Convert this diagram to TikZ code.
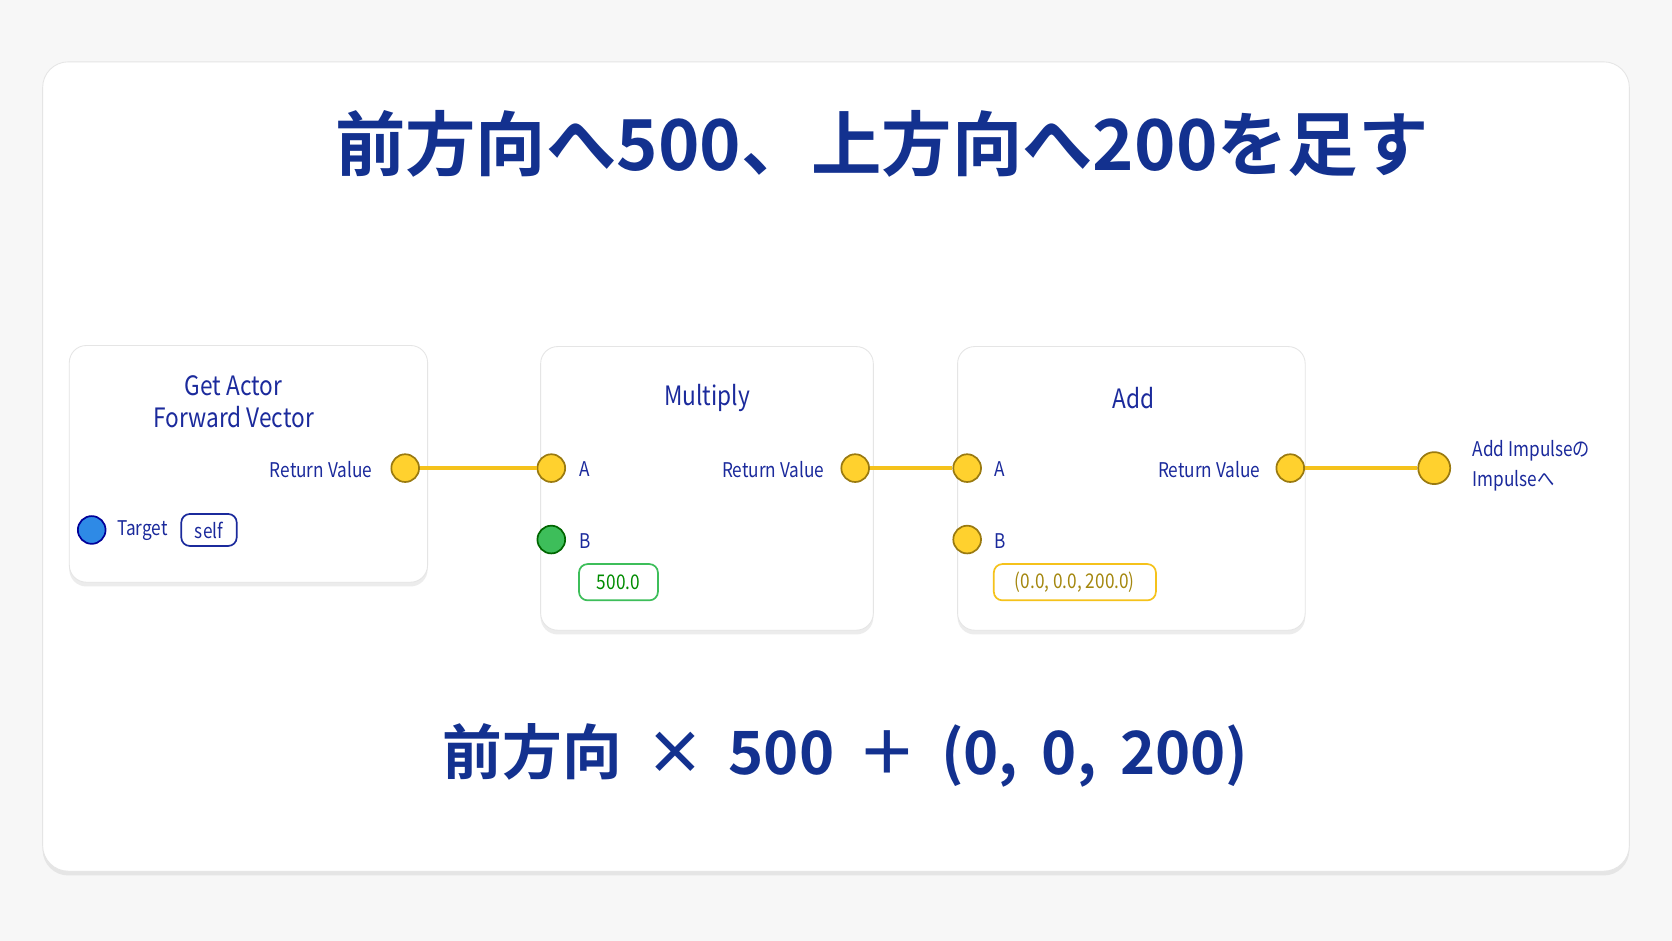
\documentclass[tikz,border=0pt]{standalone}
\usepackage{fontspec}
\setmainfont{Noto Sans CJK JP}
\newfontfamily\cjkb{Noto Sans CJK JP Bold}
\newfontfamily\cond[FakeStretch=0.85]{Noto Sans CJK JP}
\usetikzlibrary{shadows}
\definecolor{ttl}{HTML}{13318F}
\definecolor{lbl}{HTML}{1B2A9C}
\definecolor{pin}{HTML}{FFD12E}
\definecolor{pinb}{HTML}{9A7A10}
\definecolor{wire}{HTML}{F5C21B}
\definecolor{grn}{HTML}{3DBE5A}
\definecolor{blu}{HTML}{2E8AE6}
\begin{document}
\begin{tikzpicture}[x=0.5pt,y=-0.5pt,
  card/.style={draw=black!10,fill=white,rounded corners=8pt,drop shadow={shadow xshift=0pt,shadow yshift=-2pt,opacity=0.15}},
  pinn/.style={circle,draw=pinb,fill=pin,line width=0.8pt,minimum size=13pt,inner sep=0pt},
  lab/.style={text=lbl,font=\cond\fontsize{9.5}{14}\selectfont},
  head/.style={text=lbl,font=\cond\fontsize{12.5}{15}\selectfont,align=center},
  wirel/.style={draw=wire,line width=2.2pt}]
\useasboundingbox (0,0) rectangle (1568,882);
\fill[black!3] (0,0) rectangle (1568,882);
\path[card,rounded corners=12pt] (40,58) rectangle (1528,817);
\node[text=ttl,font=\cjkb\fontsize{33}{38}\selectfont] (title) at (827,135) {前方向へ500、上方向へ200を足す};
% nodes
\path[card] (65,324) rectangle (401,546);
\path[card] (507,325) rectangle (819,591);
\path[card] (898,325) rectangle (1224,591);
\node[head] (h1) at (219,377) {Get Actor\\Forward Vector};
\node[head] (h2) at (663,373) {Multiply};
\node[head] (h3) at (1063,373) {Add};
% pins
\node[pinn] (p1) at (380,439) {};
\node[pinn] (p2) at (517,439) {};
\node[pinn] (p3) at (802,439) {};
\node[pinn] (p4) at (907,439) {};
\node[pinn] (p5) at (1210,439) {};
\node[pinn,minimum size=15pt] (p6) at (1345,439) {};
\node[pinn,fill=grn,draw=green!40!black] (pb1) at (517,506) {};
\node[pinn] (pb2) at (907,506) {};
\node[pinn,fill=blu,draw=blue!60!black] (pt) at (86,497) {};
\draw[wirel] (p1) -- (p2);
\draw[wirel] (p3) -- (p4);
\draw[wirel] (p5) -- (p6);
% labels
\node[lab,anchor=east] (l1) at (356,440) {Return Value};
\node[lab,anchor=west] (l2) at (536,440) {A};
\node[lab,anchor=east] (l3) at (780,440) {Return Value};
\node[lab,anchor=west] (l4) at (926,440) {A};
\node[lab,anchor=east] (l5) at (1189,440) {Return Value};
\node[lab,anchor=west,align=left] (l6) at (1374,437) {Add Impulseの\\Impulseへ};
\node[lab,anchor=west] (lb1) at (536,507) {B};
\node[lab,anchor=west] (lb2) at (926,507) {B};
\node[lab,anchor=west] (lt) at (103,498) {Target};
\node[lab,draw=lbl,rounded corners=4pt,line width=0.8pt,minimum width=26pt,minimum height=15pt] (self) at (196,497) {self};
\node[lab,text=green!55!black,draw=grn,rounded corners=4pt,line width=0.8pt,minimum width=37pt,minimum height=17pt] (v1) at (580,546) {500.0};
\node[lab,text=pinb!90!yellow,draw=wire,rounded corners=4pt,line width=0.8pt,minimum width=76pt,minimum height=17pt] (v2) at (1008,546) {(0.0, 0.0, 200.0)};
\node[text=ttl,font=\cjkb\fontsize{28}{32}\selectfont] (formula) at (793,708) {前方向\, × \,500 \,＋\, (0,\, 0,\, 200)};
\end{tikzpicture}
\end{document}
